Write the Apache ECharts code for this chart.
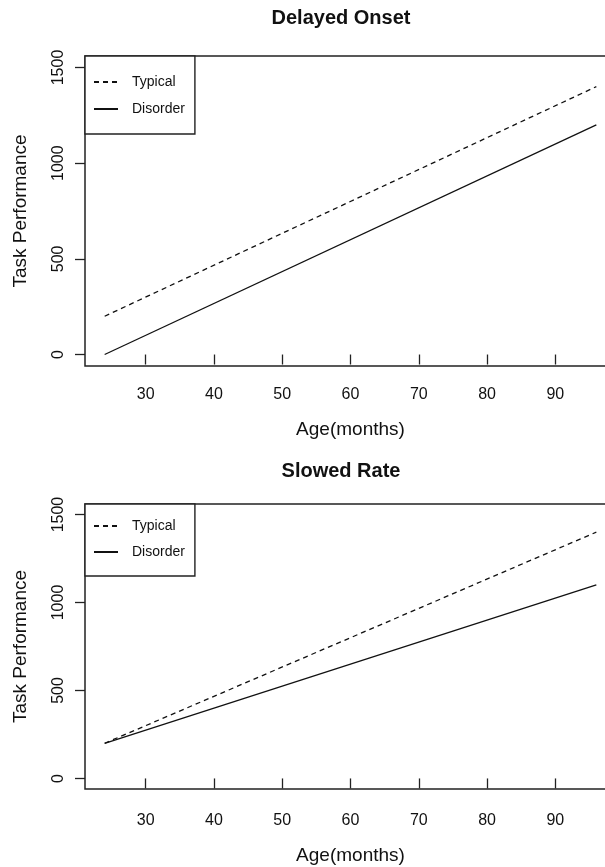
<!DOCTYPE html>
<html>
<head>
<meta charset="utf-8">
<script src="https://cdn.jsdelivr.net/npm/echarts@6/dist/echarts.min.js"></script>
<style>
html,body{margin:0;padding:0;background:#fff;}
#chart{width:605px;height:867px;}
</style>
</head>
<body>
<div id="chart"></div>
<script>
// ---- data ----
const ages = [24, 96];
const delayedTypical = [200, 1400];
const delayedDisorder = [0, 1200];
const slowedTypical = [200, 1400];
const slowedDisorder = [200, 1100];
const xTicks = [30, 40, 50, 60, 70, 80, 90];
const yTicks = [0, 500, 1000, 1500];
const titles = ['Delayed Onset', 'Slowed Rate'];
const seriesNames = ['Typical', 'Disorder'];

function pairs(xs, ys) { return xs.map((x, i) => [x, ys[i]]); }

const FONT = '"Liberation Sans", Arial, sans-serif';
const INK = '#111';

const grids = [
  { left: 85, top: 56, width: 531, height: 310 },
  { left: 85, top: 504, width: 531, height: 285 }
];

function xAxisFor(i, labelMargin, nameGap) {
  return {
    type: 'value', gridIndex: i, min: 21.12, max: 98.88,
    name: 'Age(months)', nameLocation: 'middle', nameGap: nameGap,
    nameTextStyle: { fontFamily: FONT, fontSize: 19, color: INK },
    axisLine: { show: false },
    splitLine: { show: false },
    axisTick: { show: true, length: 10, inside: false, customValues: xTicks, lineStyle: { color: '#222', width: 1.3 } },
    axisLabel: { customValues: xTicks, margin: labelMargin, fontFamily: FONT, fontSize: 16, color: INK,
      formatter: v => String(v) }
  };
}
function yAxisFor(i) {
  return {
    type: 'value', gridIndex: i, min: -60, max: 1560,
    name: 'Task Performance', nameLocation: 'middle', nameGap: 55,
    nameTextStyle: { fontFamily: FONT, fontSize: 19, color: INK },
    axisLine: { show: false },
    splitLine: { show: false },
    axisTick: { show: true, length: 10, inside: false, customValues: yTicks, lineStyle: { color: '#222', width: 1.3 } },
    axisLabel: { customValues: yTicks, rotate: 90, margin: 18, fontFamily: FONT, fontSize: 16, color: INK,
      formatter: v => String(v) }
  };
}
function legendFor(i, top, padding, gap) {
  return {
    orient: 'vertical', left: 85, top: top,
    data: seriesNames,
    itemWidth: 24, itemHeight: 14, itemGap: gap,
    padding: padding,
    borderColor: '#222', borderWidth: 1.4, backgroundColor: '#fff',
    selectedMode: false,
    itemStyle: { opacity: 0 },
    textStyle: { fontFamily: FONT, fontSize: 14, color: INK, padding: [0, 0, 0, 9] }
  };
}
function lineSeries(name, i, ys, dashed) {
  return {
    type: 'line', name: name, xAxisIndex: i, yAxisIndex: i,
    data: pairs(ages, ys), symbol: 'none', animation: false,
    lineStyle: { color: '#111', width: 1.3, type: dashed ? [5, 4] : 'solid' },
    itemStyle: { color: '#111' }
  };
}

const option = {
  backgroundColor: '#fff',
  animation: false,
  title: [
    { text: titles[0], left: 341, top: 8, padding: 0, textAlign: 'center',
      textStyle: { fontFamily: FONT, fontSize: 20, fontWeight: 'bold', color: INK } },
    { text: titles[1], left: 341, top: 461, padding: 0, textAlign: 'center',
      textStyle: { fontFamily: FONT, fontSize: 20, fontWeight: 'bold', color: INK } }
  ],
  legend: [
    legendFor(0, 56, [19, 10, 18, 8], 13),
    legendFor(1, 504, [15, 10, 17, 8], 12)
  ],
  grid: grids.map(g => Object.assign({ show: true, borderColor: '#222', borderWidth: 1.5,
    backgroundColor: 'transparent', outerBoundsMode: 'none', containLabel: false }, g)),
  xAxis: [xAxisFor(0, 21, 54), xAxisFor(1, 24, 57)],
  yAxis: [yAxisFor(0), yAxisFor(1)],
  series: [
    lineSeries(seriesNames[0], 0, delayedTypical, true),
    lineSeries(seriesNames[1], 0, delayedDisorder, false),
    lineSeries(seriesNames[0], 1, slowedTypical, true),
    lineSeries(seriesNames[1], 1, slowedDisorder, false)
  ]
};

const chart = echarts.init(document.getElementById('chart'), null, { renderer: 'canvas' });
chart.setOption(option);
</script>
</body>
</html>
